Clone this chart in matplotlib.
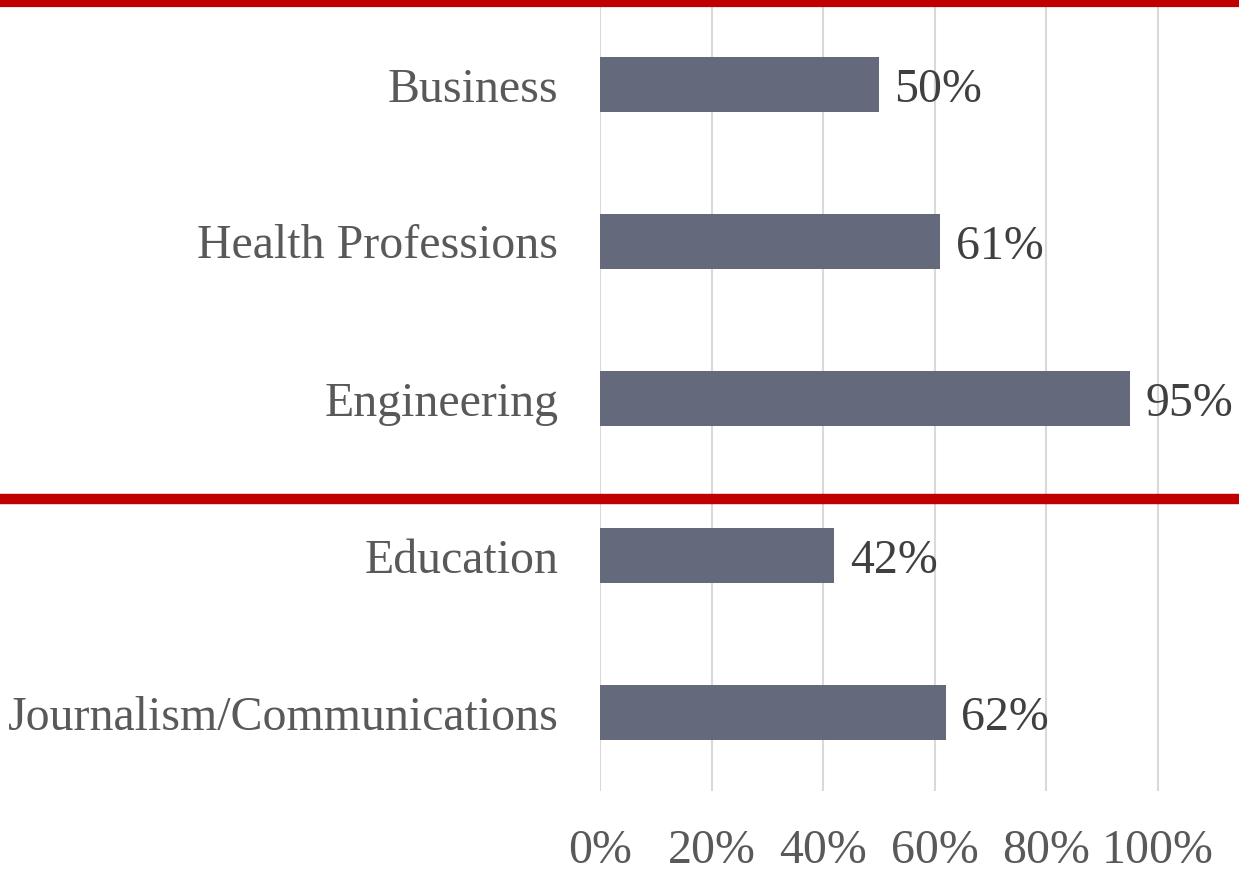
import matplotlib.pyplot as plt
from matplotlib.lines import Line2D

# data
categories = ['Business', 'Health Professions', 'Engineering', 'Education', 'Journalism/Communications']
values = [50, 61, 95, 42, 62]
ticks = [0, 20, 40, 60, 80, 100]

plt.rcParams['font.family'] = ['Liberation Serif', 'DejaVu Serif']

W, H = 1239, 871
fig = plt.figure(figsize=(W / 100, H / 100), dpi=100)
# axes placed in pixel coords: x 600..1239, y 6..791 (from top)
ax = fig.add_axes([600 / W, 1 - 791 / H, (W - 600) / W, 785 / H])

y = list(range(len(categories)))
ax.barh(y, [v / 100 for v in values], height=0.344, color='#646A7C', zorder=3)
for yi, v in zip(y, values):
    ax.annotate(f'{v}%', (v / 100, yi), xytext=(11, -4), textcoords='offset points',
                ha='left', va='center', fontsize=34.5, color='#404040')

ax.set_ylim(len(categories) - 0.5, -0.5)
ax.set_xlim(0, (W - 600) / 558)
ax.set_yticks(y)
ax.set_yticklabels(categories, fontsize=34.5, color='#595959')
ax.set_xticks([t / 100 for t in ticks])
ax.set_xticklabels([f'{t}%' for t in ticks], fontsize=34.5, color='#595959')
ax.tick_params(axis='y', length=0, pad=30)
ax.tick_params(axis='x', length=0, pad=27)
ax.grid(axis='x', color='#D9D9D9', lw=1.5, zorder=0)
for s in ax.spines.values():
    s.set_visible(False)

# red separator lines
fig.add_artist(Line2D([0, 1], [1 - 3.5 / H] * 2, transform=fig.transFigure,
                      color='#C00000', lw=5.2, zorder=10))
fig.add_artist(Line2D([0, 1], [1 - 498.5 / H] * 2, transform=fig.transFigure,
                      color='#C00000', lw=7.5, zorder=10))

fig.savefig('out.png', dpi=100)
